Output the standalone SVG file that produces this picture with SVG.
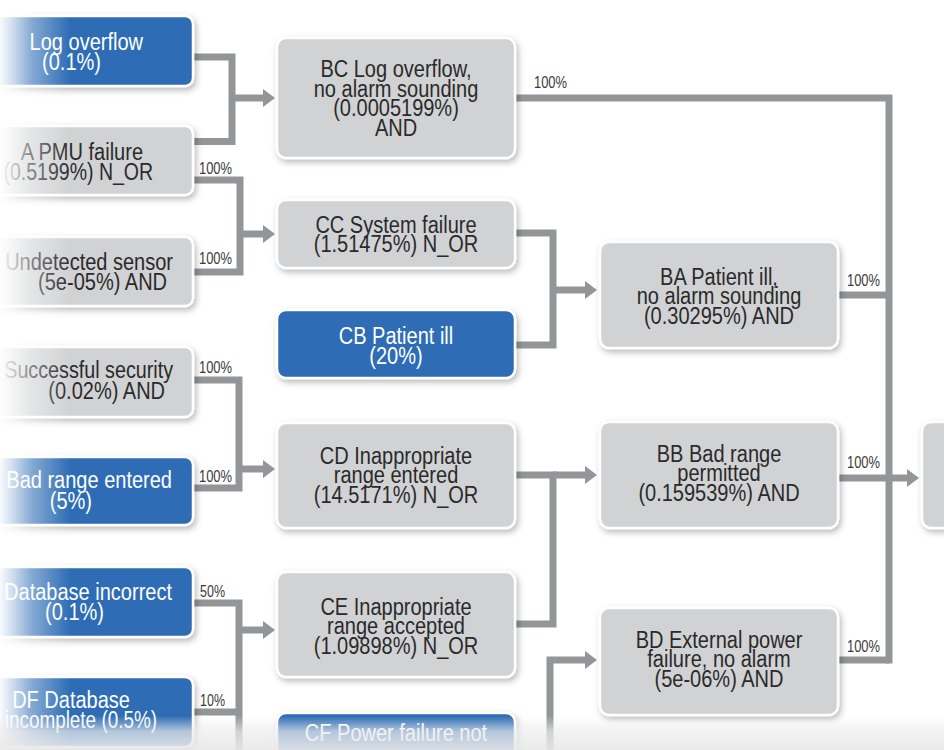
<svg xmlns="http://www.w3.org/2000/svg" width="944" height="750" viewBox="0 0 944 750">
<defs>
<style>
.g{fill:#d1d2d4;stroke:#fff;stroke-width:2.5}
.b{fill:#2f6db5;stroke:#fff;stroke-width:2.5}
.t{font-family:"Liberation Sans",Arial,sans-serif;font-size:23px;fill:#2a2a2a;text-anchor:middle}
.tw{fill:#fff}
.e{text-anchor:end}
.lb{font-family:"Liberation Sans",Arial,sans-serif;font-size:16px;fill:#3a3a3a}
.c{fill:none;stroke:#939598;stroke-width:7;stroke-linejoin:miter}
</style>
<filter id="sh" x="-10%" y="-10%" width="130%" height="140%">
<feDropShadow dx="2" dy="3" stdDeviation="3" flood-color="#000" flood-opacity="0.28"/>
</filter>
<marker id="ah" markerUnits="userSpaceOnUse" markerWidth="12" markerHeight="18" refX="0" refY="9" orient="auto">
<path d="M0,0 L12,9 L0,18 z" fill="#939598"/>
</marker>
<linearGradient id="fadeL" x1="0" y1="0" x2="1" y2="0">
<stop offset="0" stop-color="#fff" stop-opacity="0.97"/>
<stop offset="0.17" stop-color="#fff" stop-opacity="0.78"/>
<stop offset="0.45" stop-color="#fff" stop-opacity="0.42"/>
<stop offset="1" stop-color="#fff" stop-opacity="0"/>
</linearGradient>
<linearGradient id="fadeB" x1="0" y1="0" x2="0" y2="1">
<stop offset="0" stop-color="#ececec" stop-opacity="0"/>
<stop offset="0.45" stop-color="#ececec" stop-opacity="0.7"/>
<stop offset="1" stop-color="#e8e8e8" stop-opacity="0.92"/>
</linearGradient>
</defs>
<rect width="944" height="750" fill="#fff"/>

<g id="connectors">
<path class="c" d="M193,57 H232 V141.5 H193"/>
<path class="c" d="M232,98 H263" marker-end="url(#ah)"/>
<path class="c" d="M193,180 H240 V272 H193"/>
<path class="c" d="M240,234 H263" marker-end="url(#ah)"/>
<path class="c" d="M193,380 H239 V488 H193"/>
<path class="c" d="M239,469 H263" marker-end="url(#ah)"/>
<path class="c" d="M193,603 H239 V755"/>
<path class="c" d="M193,712 H239"/>
<path class="c" d="M239,630 H263" marker-end="url(#ah)"/>
<path class="c" d="M515,233 H553 V345 H515"/>
<path class="c" d="M553,290 H585" marker-end="url(#ah)"/>
<path class="c" d="M515,475 H553 V624 H515"/>
<path class="c" d="M553,475 H585" marker-end="url(#ah)"/>
<path class="c" d="M550,755 V660 H585" marker-end="url(#ah)"/>
<path class="c" d="M515,98 H889 V663.5"/>
<path class="c" d="M838,295 H889"/>
<path class="c" d="M838,478 H907" marker-end="url(#ah)"/>
<path class="c" d="M838,660 H889"/>
<text class="lb" x="534" y="88" textLength="33" lengthAdjust="spacingAndGlyphs">100%</text>
<text class="lb" x="199" y="174" textLength="33" lengthAdjust="spacingAndGlyphs">100%</text>
<text class="lb" x="199" y="264" textLength="33" lengthAdjust="spacingAndGlyphs">100%</text>
<text class="lb" x="199" y="373" textLength="33" lengthAdjust="spacingAndGlyphs">100%</text>
<text class="lb" x="199" y="482" textLength="33" lengthAdjust="spacingAndGlyphs">100%</text>
<text class="lb" x="200" y="597" textLength="25" lengthAdjust="spacingAndGlyphs">50%</text>
<text class="lb" x="200" y="706" textLength="25" lengthAdjust="spacingAndGlyphs">10%</text>
<text class="lb" x="847" y="286" textLength="33" lengthAdjust="spacingAndGlyphs">100%</text>
<text class="lb" x="847" y="468" textLength="33" lengthAdjust="spacingAndGlyphs">100%</text>
<text class="lb" x="847" y="652" textLength="33" lengthAdjust="spacingAndGlyphs">100%</text>
</g>

<g id="n-log-overflow">
<rect class="b" x="-20" y="16" width="213" height="70" rx="8" filter="url(#sh)"/>
<g transform="matrix(0.87,0,0,1,0,0)">
<text class="t tw e" x="164.4" y="50">Log overflow</text>
<text class="t tw e" x="116.1" y="70">(0.1%)</text>
</g>
</g>
<g id="n-pmu-failure">
<rect class="g" x="-20" y="126" width="213" height="69" rx="8" filter="url(#sh)"/>
<g transform="matrix(0.87,0,0,1,0,0)">
<text class="t e" x="164.4" y="160">A PMU failure</text>
<text class="t e" x="176" y="180" textLength="172" lengthAdjust="spacingAndGlyphs">(0.5199%) N_OR</text>
</g>
</g>
<g id="n-undetected-sensor">
<rect class="g" x="-20" y="237" width="213" height="69" rx="8" filter="url(#sh)"/>
<g transform="matrix(0.87,0,0,1,0,0)">
<text class="t e" x="198.9" y="270">Undetected sensor</text>
<text class="t e" x="192" y="290">(5e-05%) AND</text>
</g>
</g>
<g id="n-security-breach">
<rect class="g" x="-20" y="347" width="213" height="70" rx="8" filter="url(#sh)"/>
<g transform="matrix(0.87,0,0,1,0,0)">
<text class="t e" x="198.9" y="378" textLength="194" lengthAdjust="spacingAndGlyphs">Successful security</text>
<text class="t e" x="189.7" y="399">(0.02%) AND</text>
</g>
</g>
<g id="n-bad-range">
<rect class="b" x="-20" y="457" width="213" height="68" rx="8" filter="url(#sh)"/>
<g transform="matrix(0.87,0,0,1,0,0)">
<text class="t tw e" x="197.7" y="488">Bad range entered</text>
<text class="t tw e" x="105.7" y="509">(5%)</text>
</g>
</g>
<g id="n-database-incorrect">
<rect class="b" x="-20" y="567" width="213" height="70" rx="8" filter="url(#sh)"/>
<g transform="matrix(0.87,0,0,1,0,0)">
<text class="t tw e" x="197.7" y="600">Database incorrect</text>
<text class="t tw e" x="119.5" y="620">(0.1%)</text>
</g>
</g>
<g id="n-database-incomplete">
<rect class="b" x="-20" y="677" width="213" height="70" rx="8" filter="url(#sh)"/>
<g transform="matrix(0.87,0,0,1,0,0)">
<text class="t tw e" x="149.4" y="708">DF Database</text>
<text class="t tw e" x="180.5" y="728" textLength="175" lengthAdjust="spacingAndGlyphs">incomplete (0.5%)</text>
</g>
</g>

<g id="n-BC">
<rect class="g" x="277" y="38" width="238" height="120" rx="9" filter="url(#sh)"/>
<g transform="matrix(0.87,0,0,1,396,0)">
<text class="t" x="0" y="77.5">BC Log overflow,</text>
<text class="t" x="0" y="97">no alarm sounding</text>
<text class="t" x="0" y="116.5">(0.0005199%)</text>
<text class="t" x="0" y="136">AND</text>
</g>
</g>
<g id="n-CC">
<rect class="g" x="277" y="200" width="238" height="68" rx="9" filter="url(#sh)"/>
<g transform="matrix(0.87,0,0,1,396,0)">
<text class="t" x="0" y="233">CC System failure</text>
<text class="t" x="0" y="252.5">(1.51475%) N_OR</text>
</g>
</g>
<g id="n-CB">
<rect class="b" x="277" y="310" width="238" height="68" rx="9" filter="url(#sh)"/>
<g transform="matrix(0.87,0,0,1,396,0)">
<text class="t tw" x="0" y="344.5">CB Patient ill</text>
<text class="t tw" x="0" y="364">(20%)</text>
</g>
</g>
<g id="n-CD">
<rect class="g" x="277" y="423" width="238" height="105" rx="9" filter="url(#sh)"/>
<g transform="matrix(0.87,0,0,1,396,0)">
<text class="t" x="0" y="464">CD Inappropriate</text>
<text class="t" x="0" y="483.5">range entered</text>
<text class="t" x="0" y="503">(14.5171%) N_OR</text>
</g>
</g>
<g id="n-CE">
<rect class="g" x="277" y="572" width="238" height="105" rx="9" filter="url(#sh)"/>
<g transform="matrix(0.87,0,0,1,396,0)">
<text class="t" x="0" y="615">CE Inappropriate</text>
<text class="t" x="0" y="634.5">range accepted</text>
<text class="t" x="0" y="654">(1.09898%) N_OR</text>
</g>
</g>
<g id="n-CF">
<rect class="b" x="277" y="713" width="238" height="70" rx="9" filter="url(#sh)"/>
<g transform="matrix(0.87,0,0,1,396,0)">
<text class="t tw" x="0" y="741">CF Power failure not</text>
</g>
</g>

<g id="n-BA">
<rect class="g" x="600" y="242" width="238" height="106" rx="9" filter="url(#sh)"/>
<g transform="matrix(0.87,0,0,1,719,0)">
<text class="t" x="0" y="285">BA Patient ill,</text>
<text class="t" x="0" y="304.5">no alarm sounding</text>
<text class="t" x="0" y="324">(0.30295%) AND</text>
</g>
</g>
<g id="n-BB">
<rect class="g" x="600" y="422" width="238" height="106" rx="9" filter="url(#sh)"/>
<g transform="matrix(0.87,0,0,1,719,0)">
<text class="t" x="0" y="462">BB Bad range</text>
<text class="t" x="0" y="481.5">permitted</text>
<text class="t" x="0" y="501">(0.159539%) AND</text>
</g>
</g>
<g id="n-BD">
<rect class="g" x="600" y="608" width="238" height="107" rx="9" filter="url(#sh)"/>
<g transform="matrix(0.87,0,0,1,719,0)">
<text class="t" x="0" y="648">BD External power</text>
<text class="t" x="0" y="667.5">failure, no alarm</text>
<text class="t" x="0" y="687.5">(5e-06%) AND</text>
</g>
</g>
<g id="n-top">
<rect class="g" x="922" y="422" width="80" height="106" rx="9" filter="url(#sh)"/>
</g>

<rect x="0" y="0" width="70" height="750" fill="url(#fadeL)"/>
<rect x="0" y="716" width="944" height="34" fill="url(#fadeB)"/>
</svg>
